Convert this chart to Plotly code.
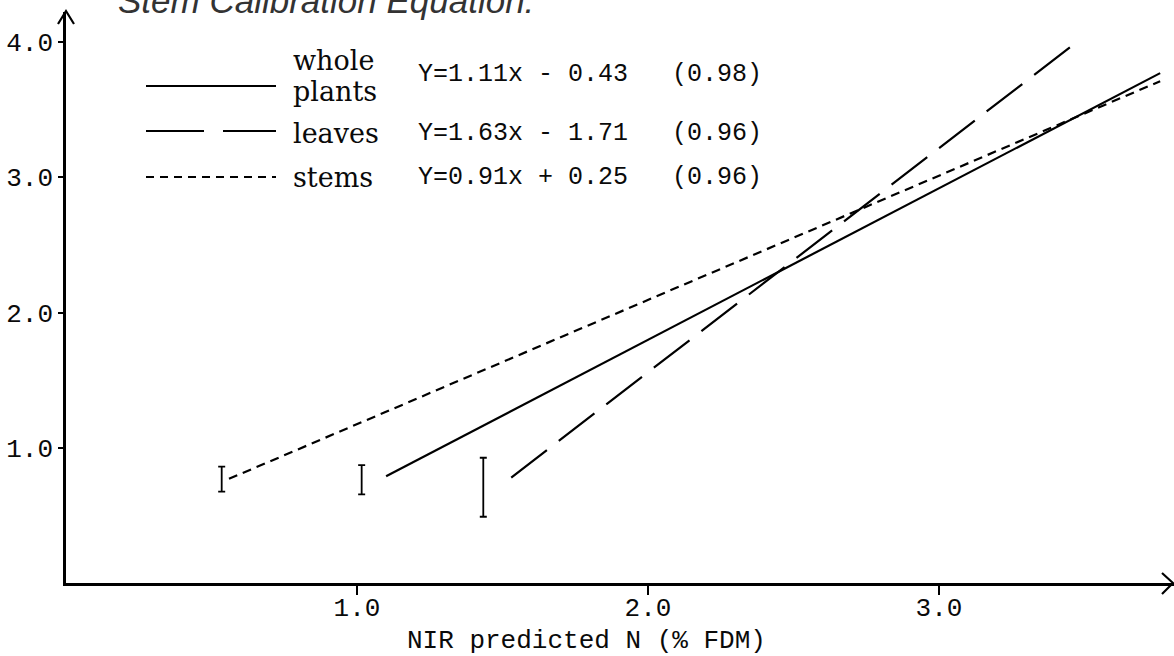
import plotly.graph_objects as go

# ---------------- data ----------------
series_names = ["whole plants", "leaves", "stems"]
whole_x = [1.10, 3.76]
whole_y = [0.79, 3.77]
leaves_x = [1.53, 3.48]
leaves_y = [0.78, 4.01]
stems_x = [0.56, 3.76]
stems_y = [0.77, 3.71]

# error bars (range I-bars at the low end of each line)
bar_x = [0.535, 1.016, 1.434]
bar_low = [0.675, 0.656, 0.49]
bar_high = [0.86, 0.872, 0.926]

x_tickvals = [1, 2, 3]
x_ticktext = ["1.0", "2.0", "3.0"]
y_tickvals = [1, 2, 3, 4]
y_ticktext = ["1.0", "2.0", "3.0", "4.0"]

legend_words = [["whole", "plants"], ["leaves"], ["stems"]]
equations = ["Y=1.11x - 0.43", "Y=1.63x - 1.71", "Y=0.91x + 0.25"]
r_values = ["(0.98)", "(0.96)", "(0.96)"]

x_title = "NIR predicted N (% FDM)"
top_title = "Stem Calibration Equation:"

# ---------------- layout geometry ----------------
W, H = 1174, 656
ML, MR, MT, MB = 66, 0, 12, 73
PW = W - ML - MR
PH = H - MT - MB
PX_PER_X = 291.0
PX_PER_Y = 135.25


def px_x(p):
    return (p - ML) / PW


def px_y(p):
    return (H - MB - p) / PH


MONO = "Liberation Mono"
SERIF = "DejaVu Serif"
INK = "#0a0a0a"

fig = go.Figure()

fig.add_trace(go.Scatter(x=whole_x, y=whole_y, mode="lines",
                         line=dict(color="black", width=2.2, dash="solid"),
                         name=series_names[0]))
fig.add_trace(go.Scatter(x=leaves_x, y=leaves_y, mode="lines",
                         line=dict(color="black", width=2.2, dash="45px,15px"),
                         name=series_names[1]))
fig.add_trace(go.Scatter(x=stems_x, y=stems_y, mode="lines",
                         line=dict(color="black", width=2.2, dash="9px,6px"),
                         name=series_names[2]))

bar_mid = [(lo + hi) / 2 for lo, hi in zip(bar_low, bar_high)]
bar_half = [(hi - lo) / 2 for lo, hi in zip(bar_low, bar_high)]
fig.add_trace(go.Scatter(x=bar_x, y=bar_mid, mode="markers",
                         marker=dict(size=1, color="rgba(0,0,0,0)"),
                         error_y=dict(type="data", symmetric=True, array=bar_half,
                                      color="black", thickness=1.8, width=3.5),
                         hoverinfo="skip"))

shapes = []
annotations = []

# axis arrowheads
shapes.append(dict(type="path", xref="paper", yref="paper",
                   path=f"M {px_x(1162)} {px_y(573)} L {px_x(1173)} {px_y(583)} L {px_x(1162)} {px_y(594)}",
                   line=dict(color="black", width=2.2)))
shapes.append(dict(type="path", xref="paper", yref="paper",
                   path=f"M {px_x(58)} {px_y(24)} L {px_x(66)} {px_y(11)} L {px_x(74)} {px_y(24)}",
                   line=dict(color="black", width=2.2)))

# custom legend
legend_line_y = [86, 131, 177]
legend_dash = ["solid", "58px,19px", "8px,6px"]
for ly, dsh in zip(legend_line_y, legend_dash):
    shapes.append(dict(type="line", xref="paper", yref="paper",
                       x0=px_x(146), x1=px_x(276), y0=px_y(ly), y1=px_y(ly),
                       line=dict(color="black", width=2.2, dash=dsh)))

word_y = [[60, 91], [133], [177]]
eq_y = [74, 133, 177]
for words, ys, eq, rv, ey in zip(legend_words, word_y, equations, r_values, eq_y):
    for w, yy in zip(words, ys):
        annotations.append(dict(text=w, xref="paper", yref="paper",
                                x=px_x(291), y=px_y(yy), xanchor="left", yanchor="middle",
                                showarrow=False, font=dict(family=SERIF, size=27, color=INK)))
    annotations.append(dict(text=eq, xref="paper", yref="paper",
                            x=px_x(416), y=px_y(ey), xanchor="left", yanchor="middle",
                            showarrow=False, font=dict(family=MONO, size=25, color=INK)))
    annotations.append(dict(text=rv, xref="paper", yref="paper",
                            x=px_x(670), y=px_y(ey), xanchor="left", yanchor="middle",
                            showarrow=False, font=dict(family=MONO, size=25, color=INK)))

# axis title
annotations.append(dict(text=x_title, xref="paper", yref="paper",
                        x=px_x(586), y=px_y(641), xanchor="center", yanchor="middle",
                        showarrow=False, font=dict(family=MONO, size=26, color=INK)))

# cut-off title at the top
annotations.append(dict(text="<i>" + top_title + "</i>", xref="paper", yref="paper",
                        x=px_x(116), y=px_y(22), xanchor="left", yanchor="bottom",
                        showarrow=False, font=dict(family="Liberation Sans", size=35, color="#333")))

fig.update_layout(
    width=W, height=H,
    margin=dict(l=ML, r=MR, t=MT, b=MB, pad=0),
    paper_bgcolor="white", plot_bgcolor="white",
    showlegend=False,
    shapes=shapes,
    annotations=annotations,
    xaxis=dict(range=[0, PW / PX_PER_X], showgrid=False, zeroline=False,
               showline=True, linecolor="black", linewidth=2.5,
               ticks="outside", ticklen=9, tickwidth=2, tickcolor="black",
               ticklabelstandoff=-10,
               tickvals=x_tickvals, ticktext=x_ticktext,
               tickfont=dict(family=MONO, size=26, color=INK)),
    yaxis=dict(range=[0, PH / PX_PER_Y], showgrid=False, zeroline=False,
               showline=True, linecolor="black", linewidth=2.5,
               ticks="outside", ticklen=5, tickwidth=2, tickcolor="black",
               tickvals=y_tickvals, ticktext=y_ticktext,
               tickfont=dict(family=MONO, size=26, color=INK)),
)

fig.write_html("out.html")
